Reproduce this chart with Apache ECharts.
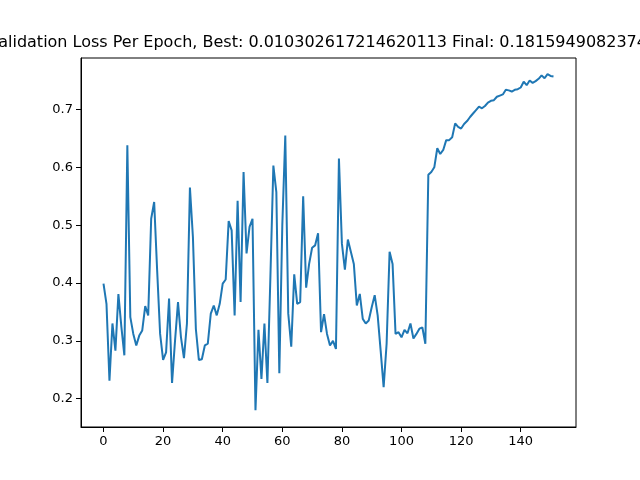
<!DOCTYPE html>
<html>
<head>
<meta charset="utf-8">
<script src="https://cdn.jsdelivr.net/npm/echarts@6/dist/echarts.min.js"></script>
<style>html,body{margin:0;padding:0;background:#fff}#c{width:640px;height:480px}</style>
</head>
<body>
<div id="c"></div>
<script>
"use strict";

// Validation loss per epoch
const loss = [
    0.399, 0.364, 0.231, 0.330, 0.283, 0.381, 0.324, 0.275, 0.638, 0.341,
    0.312, 0.292, 0.309, 0.318, 0.360, 0.344, 0.511, 0.540, 0.422, 0.312,
    0.267, 0.280, 0.373, 0.227, 0.300, 0.367, 0.306, 0.270, 0.330, 0.565,
    0.480, 0.320, 0.267, 0.268, 0.292, 0.295, 0.347, 0.361, 0.344, 0.364,
    0.399, 0.406, 0.507, 0.491, 0.344, 0.542, 0.367, 0.592, 0.451, 0.497,
    0.511, 0.180, 0.319, 0.234, 0.330, 0.227, 0.410, 0.603, 0.557, 0.244,
    0.500, 0.655, 0.347, 0.290, 0.415, 0.364, 0.367, 0.550, 0.392, 0.433,
    0.461, 0.465, 0.486, 0.315, 0.346, 0.312, 0.292, 0.300, 0.286, 0.615,
    0.468, 0.423, 0.475, 0.454, 0.433, 0.361, 0.381, 0.338, 0.330, 0.335,
    0.358, 0.379, 0.344, 0.283, 0.220, 0.295, 0.454, 0.433, 0.312, 0.315,
    0.306, 0.319, 0.313, 0.330, 0.304, 0.312, 0.321, 0.323, 0.295, 0.587,
    0.592, 0.600, 0.633, 0.623, 0.630, 0.647, 0.647, 0.652, 0.676, 0.670,
    0.667, 0.675, 0.680, 0.687, 0.693, 0.699, 0.705, 0.702, 0.706, 0.712,
    0.715, 0.716, 0.722, 0.724, 0.726, 0.734, 0.733, 0.731, 0.734, 0.735,
    0.738, 0.748, 0.742, 0.750, 0.746, 0.749, 0.753, 0.759, 0.754, 0.761,
    0.758, 0.757
];
const xTicks = [0, 20, 40, 60, 80, 100, 120, 140];
const yTicks = [0.2, 0.3, 0.4, 0.5, 0.6, 0.7];
const title = "Validation Loss Per Epoch, Best: 0.010302617214620113 Final: 0.1815949082374573";

const FONT = '"DejaVu Sans", sans-serif';
const c = echarts.init(document.getElementById("c"));
c.setOption({
    animation: false,
    textStyle: { fontFamily: FONT },
    title: {
        text: title, left: 328, top: 30, textAlign: "center",
        textStyle: { fontFamily: FONT, fontSize: 16, fontWeight: "normal", color: "#000" }
    },
    grid: { left: 81, right: 64, top: 58, bottom: 53, show: true, borderColor: "#000", borderWidth: 1 },
    xAxis: {
        type: "value", min: -7.55, max: 158.55,
        splitLine: { show: false },
        axisLine: { onZero: false, lineStyle: { color: "#000" } },
        axisTick: { customValues: xTicks, length: 5, lineStyle: { color: "#000" } },
        axisLabel: { customValues: xTicks, color: "#000", fontSize: 13, margin: 8 }
    },
    yAxis: {
        type: "value", min: 0.151, max: 0.789,
        splitLine: { show: false },
        axisLine: { show: true, onZero: false, lineStyle: { color: "#000" } },
        axisTick: { show: true, customValues: yTicks, length: 5, lineStyle: { color: "#000" } },
        axisLabel: { customValues: yTicks, color: "#000", fontSize: 13, margin: 8, formatter: v => v.toFixed(1) }
    },
    series: [{
        type: "line", showSymbol: false,
        data: loss.map((v, i) => [i, v]),
        lineStyle: { color: "#1f77b4", width: 2 }
    }]
});
</script>
</body>
</html>
